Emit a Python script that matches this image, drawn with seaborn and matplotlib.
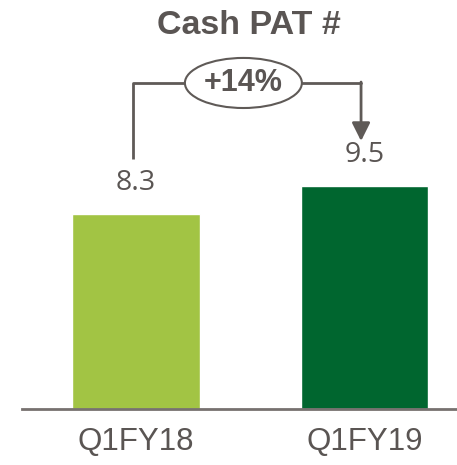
import seaborn as sns
import matplotlib.pyplot as plt
from matplotlib.patches import Ellipse

# data
quarters = ["Q1FY18", "Q1FY19"]
cash_pat = [8.3, 9.5]
growth_label = "+14%"
title = "Cash PAT #"
bar_colors = ["#a2c444", "#00662f"]

text_grey = "#5a5553"
line_grey = "#5f5a57"

sns.set_style("white")
plt.rcParams["font.family"] = ["Liberation Sans", "DejaVu Sans"]

fig = plt.figure(figsize=(4.57, 4.65), dpi=100)
ax = fig.add_axes([22 / 457, 56 / 465, 435 / 457, 409 / 465])

sns.barplot(x=quarters, y=cash_pat, hue=quarters, palette=bar_colors,
            width=0.56, saturation=1, legend=False, ax=ax)

ax.set_xlim(-0.499, 1.405)
ax.set_ylim(0, 17.4)

# value labels
for i, v in enumerate(cash_pat):
    ax.text(i, v + 1.0, f"{v}", ha="center", va="baseline",
            fontsize=20.5, color=text_grey, family=["Open Sans", "DejaVu Sans"])

# growth bracket
y_top = max(cash_pat) + 4.37
x_left, x_right = -0.013, 0.985
ell_x, ell_w, ell_h = 0.47, 0.512, 2.13
ax.plot([x_left, x_left, ell_x - ell_w / 2], [cash_pat[0] + 2.34, y_top, y_top],
        color=line_grey, lw=2, solid_capstyle="butt")
ax.plot([ell_x + ell_w / 2, x_right], [y_top, y_top], color=line_grey, lw=2)
ax.annotate("", xy=(x_right, cash_pat[1] + 1.9), xytext=(x_right, y_top + 0.04),
            arrowprops=dict(arrowstyle="-|>,head_length=1.1,head_width=0.55",
                            color=line_grey, lw=2, shrinkA=0, shrinkB=0))
ax.add_patch(Ellipse((ell_x, y_top), ell_w, ell_h, fill=False,
                     edgecolor=line_grey, lw=1.5))
ax.text(ell_x, y_top, growth_label, ha="center", va="center",
        fontsize=22, fontweight="bold", color=text_grey)

# axes styling
for side in ["top", "left", "right"]:
    ax.spines[side].set_visible(False)
ax.spines["bottom"].set_color("#77716f")
ax.spines["bottom"].set_linewidth(2)
ax.set_yticks([])
ax.set_xlabel("")
ax.set_ylabel("")
ax.tick_params(axis="x", length=0, pad=13, labelsize=22.5, labelcolor=text_grey)

fig.text(249 / 457, 1 - 25 / 465, title, ha="center", va="center",
         fontsize=24.5, fontweight="bold", color=text_grey)

fig.savefig("out.png", dpi=100)
